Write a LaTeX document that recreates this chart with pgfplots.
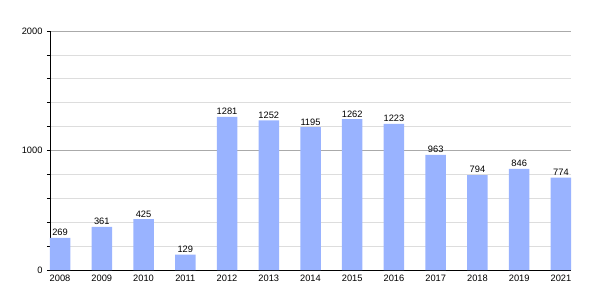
\documentclass[border=0pt]{standalone}
\usepackage{pgfplots}
\pgfplotsset{compat=1.18}
\usepackage{fontspec}
\setmainfont{Liberation Sans}
\definecolor{barblue}{RGB}{153,179,255}
\definecolor{majgrid}{RGB}{170,170,170}
\definecolor{mingrid}{RGB}{221,221,221}
\begin{document}
\begin{tikzpicture}
\path[use as bounding box] (0,0) rectangle (600pt,300pt);
\begin{axis}[
  at={(50pt,30pt)}, anchor=south west,
  scale only axis, width=521pt, height=239pt,
  xmin=-0.24, xmax=12.24, ymin=0, ymax=2000,
  axis x line*=bottom, axis y line*=left,
  axis line style={black, line width=0.8pt, -},
  xtick={0,...,12},
  xticklabels={2008,2009,2010,2011,2012,2013,2014,2015,2016,2017,2018,2019,2021},
  x tick label style={font=\fontsize{9.3}{10}\selectfont, yshift=2pt},
  major x tick style={draw=none},
  ytick={0,1000,2000},
  minor ytick={200,400,600,800,1200,1400,1600,1800},
  y tick label style={font=\fontsize{9.3}{10}\selectfont, xshift=-1pt},
  /pgf/number format/assume math mode=true,
  /pgf/number format/1000 sep={},
  ymajorgrids, yminorgrids,
  major grid style={majgrid, line width=0.6pt},
  minor grid style={mingrid, line width=0.6pt},
  tick align=outside,
  major tick length=3pt, minor tick length=3pt,
  ytick style={black, line width=0.6pt},
  ybar, bar width=20.5pt,
  nodes near coords,
  every node near coord/.append style={font=\fontsize{9.3}{10}\selectfont, black, yshift=-1.5pt},
  clip=false,
]
\addplot[fill=barblue, draw=none] coordinates {
(0,269) (1,361) (2,425) (3,129) (4,1281) (5,1252) (6,1195) (7,1262) (8,1223) (9,963) (10,794) (11,846) (12,774)
};
\end{axis}
\end{tikzpicture}
\end{document}
